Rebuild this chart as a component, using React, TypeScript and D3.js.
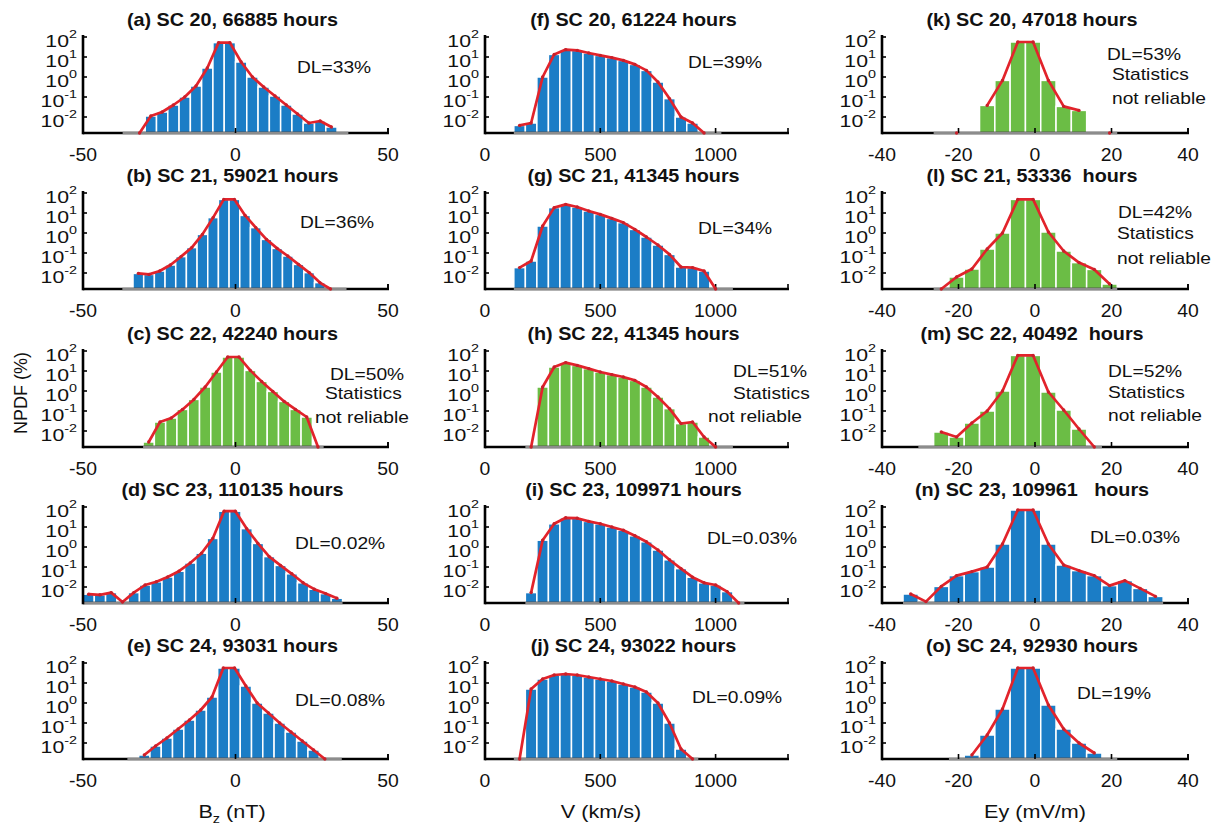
import React from "react";
import * as d3 from "d3";

// ---------- DATA (log10 of NPDF in %, one value per histogram bin; null = empty bin,
// -2.8 = zero bin where the red curve touches the axis floor) ----------

// Bz (nT), solar cycles 20..24
const bzSC20 = [null, -2.8, -1.95, -1.75, -1.4, -1.0, -0.45, 0.45, 1.72, 1.72, 0.75, 0.0, -0.5, -0.95, -1.4, -1.85, -2.3, -2.2, -2.5, null];
const bzSC21 = [null, -2.02, -2.07, -1.9, -1.6, -1.18, -0.73, -0.07, 0.77, 1.68, 1.68, 0.88, 0.27, -0.32, -0.77, -1.15, -1.57, -1.98, -2.48, -2.8, null];
const bzSC22 = [-2.55, -1.55, -1.35, -0.92, -0.42, 0.2, 0.95, 1.7, 1.7, 1.03, 0.48, -0.02, -0.52, -0.92, -1.3, -2.8];
const bzSC23 = [-2.36, -2.39, -2.28, -2.75, -2.28, -1.9, -1.74, -1.5, -1.21, -0.8, -0.31, 0.43, 1.79, 1.79, 0.92, 0.18, -0.48, -0.92, -1.34, -1.79, -2.11, -2.33, -2.56];
const bzSC24 = [null, -2.6, -2.15, -1.75, -1.3, -0.85, -0.35, 0.3, 1.75, 1.75, 0.85, 0.0, -0.5, -1.0, -1.45, -1.9, -2.35, -2.8, null];
const bzBinStart = [-37, -37.1, -30.3, -50, -35.45];
const bzBinWidth = [3.7, 3.5, 3.7, 3.7, 3.7];

// V (km/s)
const vSC20 = [-2.42, -2.3, 0.0, 1.13, 1.37, 1.33, 1.2, 1.08, 0.97, 0.83, 0.63, 0.33, -0.25, -1.08, -2.0, -2.3, -2.8, null];
const vSC21 = [-1.73, -1.4, 0.35, 1.27, 1.43, 1.3, 1.1, 0.93, 0.73, 0.52, 0.18, -0.2, -0.6, -1.07, -1.7, -1.73, -1.9, -2.8, null];
const vSC22 = [-2.8, 0.2, 1.2, 1.42, 1.28, 1.12, 0.95, 0.82, 0.7, 0.53, 0.2, -0.3, -0.88, -1.63, -1.55, -2.3, -2.8, null];
const vSC23 = [-2.28, 0.34, 1.16, 1.46, 1.44, 1.28, 1.16, 1.0, 0.84, 0.56, 0.26, -0.15, -0.64, -1.08, -1.51, -1.79, -1.9, -2.23, -2.8];
const vSC24 = [-2.8, 0.7, 1.2, 1.4, 1.45, 1.4, 1.3, 1.2, 1.1, 0.95, 0.8, 0.55, 0.0, -1.0, -2.3, -2.8];
const vBinStart = [125, 125, 175, 175, 125];
const vBinWidth = [50, 50, 50, 50, 50];

// Ey (mV/m)
const eySC20 = [null, -2.8, null, -1.42, -0.17, 1.75, 1.75, -0.17, -1.47, -1.67, null, -2.8];
const eySC21 = [-2.8, -2.2, -1.8, -0.8, 0.0, 1.68, 1.68, 0.05, -0.9, -1.48, -1.82, -2.55];
const eySC22 = [null, -2.05, -2.3, -1.6, -1.0, 0.0, 1.78, 1.78, -0.05, -0.95, -1.9, -2.8];
const eySC23 = [-2.35, -2.73, -1.97, -1.43, -1.23, -1.0, 0.15, 1.85, 1.85, 0.15, -0.9, -1.18, -1.43, -1.93, -1.68, -2.07, -2.47];
const eySC24 = [null, -2.6, -1.6, -0.3, 1.75, 1.75, -0.1, -1.3, -2.0, -2.5, null];
const eyBinStart = [-26.5, -26.5, -30.5, -34.5, -22.5];
const eyBinWidth = [4, 4, 4, 4, 4];

const bzTitles = ["(a) SC 20, 66885 hours", "(b) SC 21, 59021 hours", "(c) SC 22, 42240 hours", "(d) SC 23, 110135 hours", "(e) SC 24, 93031 hours"];
const vTitles = ["(f) SC 20, 61224 hours", "(g) SC 21, 41345 hours", "(h) SC 22, 41345 hours", "(i) SC 23, 109971 hours", "(j) SC 24, 93022 hours"];
const eyTitles = ["(k) SC 20, 47018 hours", "(l) SC 21, 53336  hours", "(m) SC 22, 40492  hours", "(n) SC 23, 109961   hours", "(o) SC 24, 92930 hours"];

const bzDL = ["DL=33%", "DL=36%", "DL=50%", "DL=0.02%", "DL=0.08%"];
const vDL = ["DL=39%", "DL=34%", "DL=51%", "DL=0.03%", "DL=0.09%"];
const eyDL = ["DL=53%", "DL=42%", "DL=52%", "DL=0.03%", "DL=19%"];

const bzUnreliable = [false, false, true, false, false];
const vUnreliable = [false, false, true, false, false];
const eyUnreliable = [true, true, true, false, false];

const bzTicks = [-50, 0, 50];
const vTicks = [0, 500, 1000];
const eyTicks = [-40, -20, 0, 20, 40];
const yTickExps = [2, 1, 0, -1, -2];

// ---------- LAYOUT ----------
const FLOOR = -2.8;
const CEIL = 2.1;
const ROW_TOP = [35, 191, 349, 505, 661];
const PLOT_H = 98;
const COLS = [
  { x0: 83, x1: 388, domain: [-50, 50], ticks: bzTicks },
  { x0: 485, x1: 788, domain: [0, 1314], ticks: vTicks },
  { x0: 882, x1: 1188, domain: [-40, 40], ticks: eyTicks },
];
// annotation anchors: [left x, centre y]
const ANNOT: Record<string, { dl: [number, number]; st?: [number, number]; nr?: [number, number] }> = {
  a: { dl: [297, 67] },
  b: { dl: [300, 222] },
  c: { dl: [330, 374], st: [325, 393], nr: [315, 417] },
  d: { dl: [295, 543] },
  e: { dl: [295, 700] },
  f: { dl: [688, 62] },
  g: { dl: [698, 228] },
  h: { dl: [733, 371], st: [733, 393], nr: [708, 416] },
  i: { dl: [707, 538] },
  j: { dl: [692, 697] },
  k: { dl: [1107, 54], st: [1112, 74], nr: [1112, 98] },
  l: { dl: [1118, 212], st: [1117, 233], nr: [1117, 258] },
  m: { dl: [1108, 371], st: [1108, 392], nr: [1108, 415] },
  n: { dl: [1090, 537] },
  o: { dl: [1077, 693] },
};

const FONT = "'Liberation Sans', Arial, Helvetica, sans-serif";
const BLUE = "#1b7dc6";
const GREEN = "#6bbd45";
const RED = "#e2232b";
const GRAY = "#8c8c8c";

type PanelDef = {
  id: string;
  col: number;
  row: number;
  vals: (number | null)[];
  start: number;
  width: number;
  title: string;
  dl: string;
  unreliable: boolean;
};

const PANELS: PanelDef[] = [];
const ids = "abcdefghijklmno";
const groups = [
  { vals: [bzSC20, bzSC21, bzSC22, bzSC23, bzSC24], start: bzBinStart, width: bzBinWidth, titles: bzTitles, dl: bzDL, un: bzUnreliable },
  { vals: [vSC20, vSC21, vSC22, vSC23, vSC24], start: vBinStart, width: vBinWidth, titles: vTitles, dl: vDL, un: vUnreliable },
  { vals: [eySC20, eySC21, eySC22, eySC23, eySC24], start: eyBinStart, width: eyBinWidth, titles: eyTitles, dl: eyDL, un: eyUnreliable },
];
groups.forEach((g, c) => {
  for (let r = 0; r < 5; r++) {
    PANELS.push({
      id: ids[c * 5 + r],
      col: c,
      row: r,
      vals: g.vals[r],
      start: g.start[r],
      width: g.width[r],
      title: g.titles[r],
      dl: g.dl[r],
      unreliable: g.un[r],
    });
  }
});

const SText = ({ x, y, sx = 1, anchor = "start", size = 16, weight = "normal", children }: any) => (
  <text
    transform={`translate(${x},${y}) scale(${sx},1)`}
    textAnchor={anchor}
    fontSize={size}
    fontWeight={weight}
    fontFamily={FONT}
    fill="#111"
    style={{ whiteSpace: "pre" }}
  >
    {children}
  </text>
);

function Panel({ p }: { p: PanelDef }) {
  const col = COLS[p.col];
  const T = ROW_TOP[p.row];
  const B = T + PLOT_H;
  const x = d3.scaleLinear().domain(col.domain).range([col.x0, col.x1]);
  const y = d3.scaleLog().domain([10 ** FLOOR, 10 ** CEIL]).range([B, T]);
  const bins = p.vals.map((v, i) => ({
    lo: p.start + i * p.width,
    hi: p.start + (i + 1) * p.width,
    v,
  }));
  const fill = p.unreliable ? GREEN : BLUE;
  const line = d3
    .line<{ lo: number; hi: number; v: number | null }>()
    .defined((d) => d.v !== null)
    .x((d) => x((d.lo + d.hi) / 2))
    .y((d) => y(10 ** (d.v as number)));
  const binLo = bins[0].lo;
  const binHi = bins[bins.length - 1].hi;
  const a = ANNOT[p.id];
  const cx = (col.x0 + col.x1) / 2;

  return (
    <g>
      {/* bars */}
      {bins.map((b, i) =>
        b.v !== null && b.v > FLOOR + 0.02 ? (
          <rect
            key={i}
            x={x(b.lo)}
            width={x(b.hi) - x(b.lo)}
            y={y(10 ** b.v)}
            height={B - y(10 ** b.v)}
            fill={fill}
            stroke="#ffffff"
            strokeWidth={1.5}
          />
        ) : null
      )}
      {/* axes */}
      <line x1={col.x0} x2={col.x1 + 1} y1={B} y2={B} stroke="#000" strokeWidth={2.6} />
      <line
        x1={Math.max(x(binLo), col.x0 + 1)}
        x2={Math.min(x(binHi), col.x1)}
        y1={B}
        y2={B}
        stroke={GRAY}
        strokeWidth={2.6}
      />
      <line x1={col.x0} x2={col.x0} y1={T} y2={B + 1.3} stroke="#000" strokeWidth={2.6} />
      {yTickExps.map((e) => (
        <line key={e} x1={col.x0} x2={col.x0 + 4} y1={y(10 ** e)} y2={y(10 ** e)} stroke="#000" strokeWidth={1.6} />
      ))}
      {[...col.ticks, col.domain[1]].map((t, i) => (
        <line key={i} x1={x(t)} x2={x(t)} y1={B} y2={B - 5} stroke="#000" strokeWidth={1.6} />
      ))}
      {/* red curve */}
      <path d={line(bins) || ""} fill="none" stroke={RED} strokeWidth={2.7} strokeLinejoin="round" />
      {bins.map((b, i) =>
        b.v !== null ? (
          <circle key={i} cx={x((b.lo + b.hi) / 2)} cy={y(10 ** b.v)} r={1.7} fill="#c8202a" />
        ) : null
      )}
      {/* y tick labels */}
      {yTickExps.map((e) => (
        <SText key={e} x={col.x0 - 6} y={y(10 ** e) + 10} sx={1.25} anchor="end" size={17}>
          <tspan>10</tspan>
          <tspan dy={-9} fontSize={11.5}>
            {String(e)}
          </tspan>
        </SText>
      ))}
      {/* x tick labels */}
      {col.ticks.map((t) => (
        <SText key={t} x={x(t)} y={B + 28} anchor="middle" size={19} sx={1.02}>
          {String(t)}
        </SText>
      ))}
      {/* title */}
      <SText x={cx - 3} y={T - 9} anchor="middle" size={18} weight="bold" sx={1.1}>
        {p.title}
      </SText>
      {/* annotations */}
      <SText x={a.dl[0]} y={a.dl[1] + 6} size={16} sx={1.2}>
        {p.dl}
      </SText>
      {p.unreliable && a.st && (
        <SText x={a.st[0]} y={a.st[1] + 6} size={16} sx={1.2}>
          Statistics
        </SText>
      )}
      {p.unreliable && a.nr && (
        <SText x={a.nr[0]} y={a.nr[1] + 6} size={16} sx={1.2}>
          not reliable
        </SText>
      )}
    </g>
  );
}

export default function App() {
  return (
    <svg
      width={1222}
      height={825}
      viewBox="0 0 1222 825"
      style={{ position: "absolute", left: 0, top: 0, background: "#fff" }}
    >
      <rect x={0} y={0} width={1222} height={825} fill="#fff" />
      {PANELS.map((p) => (
        <Panel key={p.id} p={p} />
      ))}
      {/* axis labels */}
      <SText x={232} y={818} anchor="middle" size={18} sx={1.2}>
        <tspan>B</tspan>
        <tspan dy={5} fontSize={12}>
          z
        </tspan>
        <tspan dy={-5}> (nT)</tspan>
      </SText>
      <SText x={601} y={818} anchor="middle" size={18} sx={1.2}>
        V (km/s)
      </SText>
      <SText x={1035} y={818} anchor="middle" size={18} sx={1.2}>
        Ey (mV/m)
      </SText>
      <text
        transform="translate(27,393) rotate(-90)"
        textAnchor="middle"
        fontSize={18}
        fontFamily={FONT}
        fill="#111"
      >
        NPDF (%)
      </text>
    </svg>
  );
}
